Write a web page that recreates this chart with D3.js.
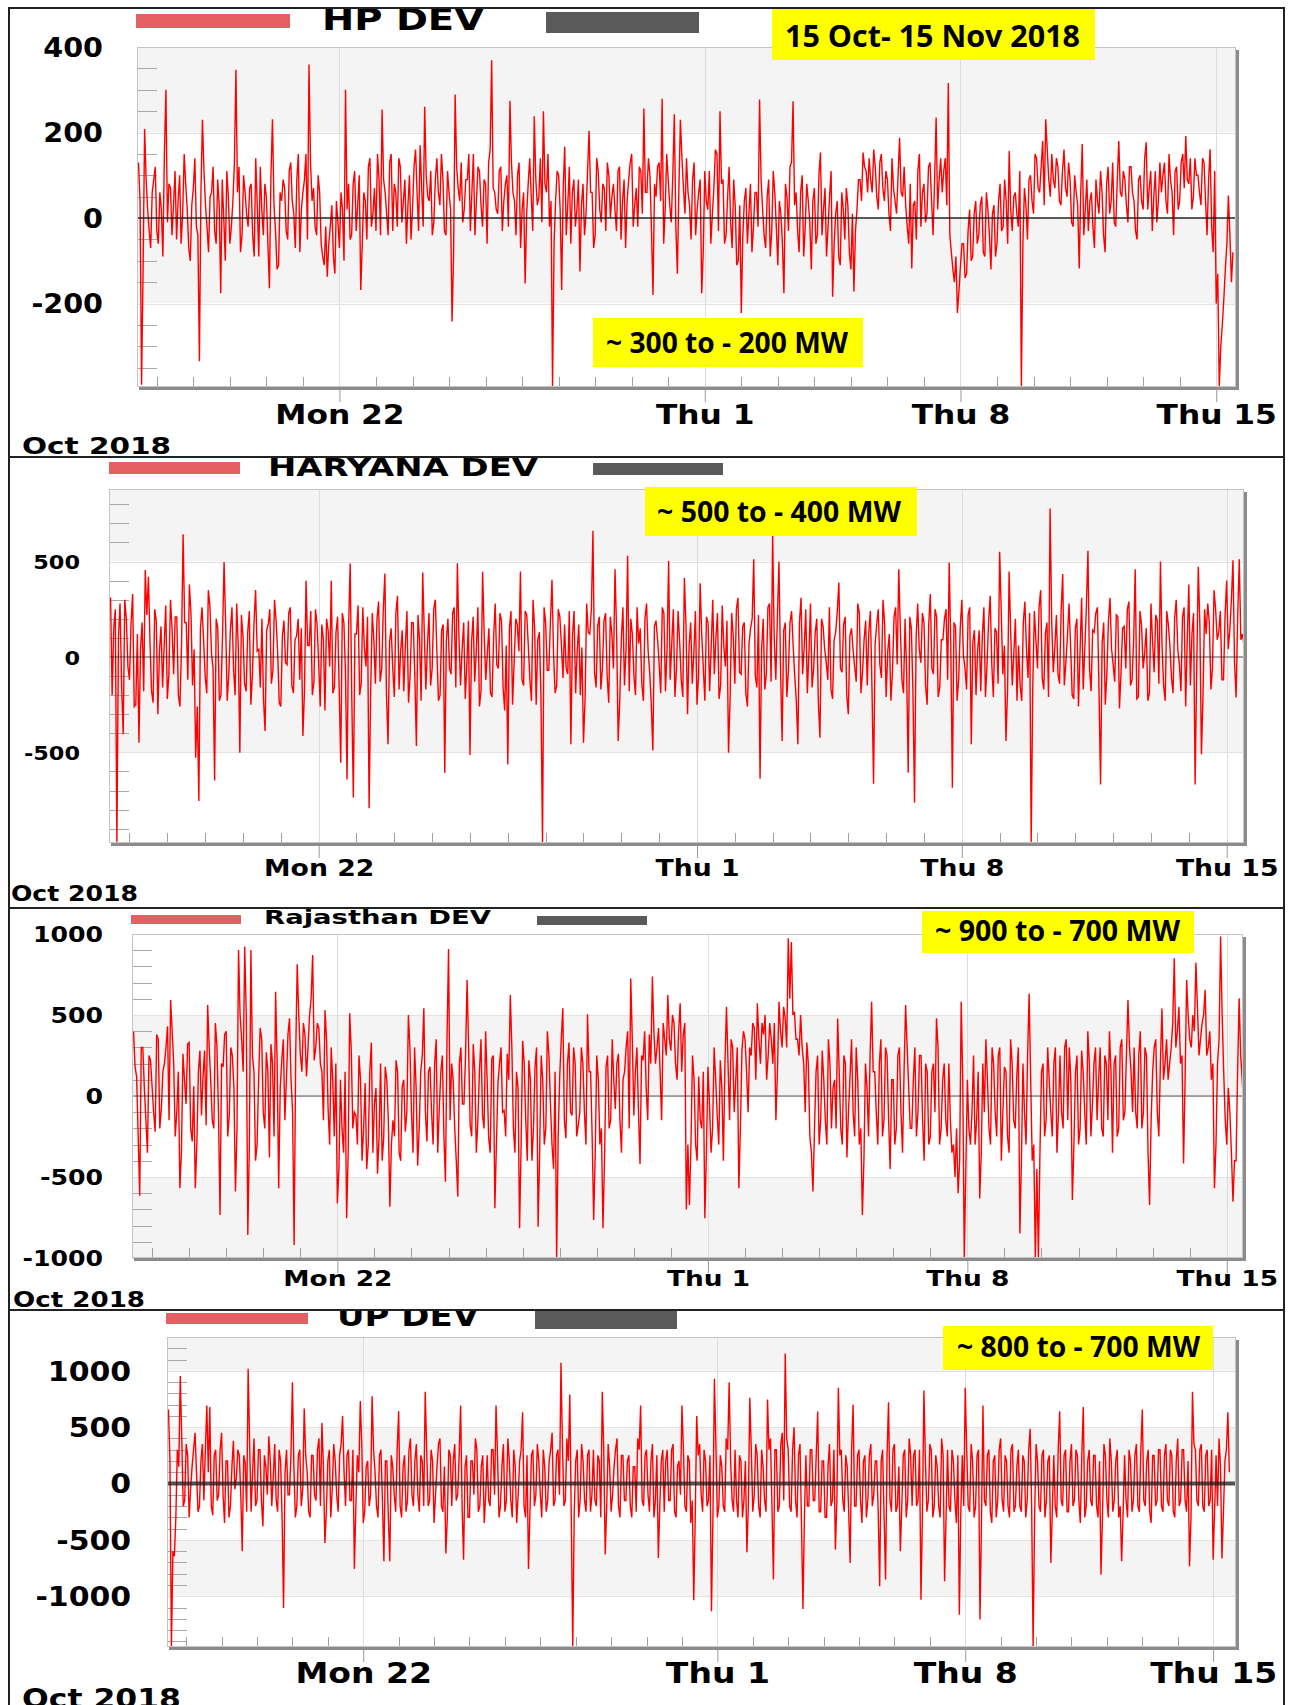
<!DOCTYPE html>
<html>
<head>
<meta charset="utf-8">
<script src="https://cdn.jsdelivr.net/npm/d3@7"></script>
<style>
  body { margin: 0; background: #fff; }
  svg { display: block; }
</style>
</head>
<body>
<div id="chart"></div>
<script>
// deviation readings (MW), one row per day starting Oct 16 12:00.
// "...Dev" arrays hold the even-hour readings, "...DevOdd" the odd-hour readings in between.
const hpDev = [
  130, -390, 208, 20, -70, 90, -30, 60, -90, 300, 80, -40,
  110, 40, -60, 150, 20, -100, 70, -20, -335, 230, 30, -80,
  60, -30, 90, -176, 0, 110, -60, 40, 347, 120, -40, 60,
  -20, 80, -90, 30, 120, -40, 50, -164, 231, -30, -110, 40,
  70, -50, 130, 10, 90, -80, 60, 150, 359, 40, -20, 100,
  -60, -110, -137, -20, -90, 40, -70, 20, 300, 80, -40, 110,
  30, -168, 60, -50, 140, 10, -30, 90, 254, 60, -40, 150,
  80, -20, 120, 40, -60, 100, 20, 160, -30, 70, 260, 50,
  110, -10, 140, 30, 90, -40, 60, -242, 289, 70, 130, 20,
  90, -30, 150, 40, 110, -20, 80, 130, 369, 60, 10, 120,
  40, 100, 274, 60, -40, 130, 20, -153, 80, 50, 238, 30,
  140, 250, 60, -20, -395, 40, 100, -168, 167, 30, -60, 90,
  20, -125, 80, 10, 204, 60, -40, 110, -10, 70, 130, 0,
  80, -30, 120, 40, -70, 90, 150, 30, -20, 110, 256, 60,
  100, -180, 50, 130, 279, 20, 90, -10, 243, -130, 230, 70,
  140, 30, 90, -40, 60, -176, 110, 20, -60, 70, 150, 250,
  90, -40, 120, -70, 30, -100, -222, 40, -60, 80, -20, 60,
  277, 20, -70, 90, -30, 60, -110, 10, -176, 50, 120, 273,
  60, -80, 100, -20, 40, -120, 70, -40, 153, 20, -90, 50,
  -184, 10, -90, 60, -50, 30, -120, -172, 20, 90, 153, 110,
  140, 60, 120, 20, 150, 40, 90, -30, 70, 10, 188, 50,
  30, -60, -118, 40, 110, -20, 80, 10, 130, -40, 235, 90,
  60, 140, 316, -80, -150, -222, -110, -60, -130, 20, -90, 40,
  -40, 50, -90, 20, -120, 30, -60, 80, -20, 40, 157, -30,
  60, -20, -395, 70, -50, 100, 10, 140, 60, 180, 231, 90,
  150, 70, 120, 30, 160, 50, 90, -20, 60, -118, 173, 20,
  -30, 60, -70, 40, 110, -40, 80, 10, 130, -20, 180, 50,
  90, -10, 120, 40, -50, 100, 20, 177, 70, -30, 110, 40,
  60, 130, 10, 90, -40, 120, 40, 150, 192, 80, 20, 140,
  100, 30, 130, -40, 161, -80, -200, -395, -250, -120, 53, -150
];
const hpDevOdd = [
  40, -120, 90, -30, 60, 120, -60, 20, 150, -10, 70, 30,
  -50, 100, 10, 80, -70, 30, 140, -40, 60, 110, -20, 50,
  120, -60, 30, 90, -100, 50, -20, 130, 60, -80, 100, 10,
  70, -40, 140, -90, 20, 80, -60, 100, 30, -120, 60, 90,
  -30, 110, 40, -70, 150, 20, 90, -50, 130, 70, -40, 60,
  -90, -20, -60, 30, -130, -10, 60, -100, 20, -50, 80, -30,
  100, -60, 40, 120, -20, 70, 150, -40, 90, 10, 130, -30,
  60, 140, -10, 90, 30, -50, 120, 60, 170, -20, 100, 40,
  -40, 90, 60, 150, -30, 110, 20, -80, 120, 40, -10, 90,
  150, 60, -40, 120, 30, 90, -60, 160, 70, 20, 110, -30,
  80, -20, 130, 40, 100, -70, 60, 10, 140, -30, 90, 50,
  -10, 80, 150, 40, -60, 110, 20, 70, -40, 120, 60, -20,
  90, 30, -40, 110, 60, -70, 140, 20, 80, -30, 100, 50,
  20, 110, -50, 90, 40, 130, -20, 70, 120, 10, 60, 140,
  -30, 80, 120, 40, -60, 150, 30, 100, -20, 70, 140, 10,
  60, -50, 130, 20, 90, -80, 40, 110, 10, 160, -30, 80,
  -60, 50, -10, 90, -110, 30, -40, 70, 10, -80, 60, -20,
  90, -40, 50, -90, 110, -20, 40, -60, 80, -30, 130, 30,
  -30, 60, -90, 80, -10, 40, -60, 100, -40, 70, -20, 110,
  -60, 40, -110, 20, 70, -80, 10, -30, 90, 40, 120, 60,
  90, 160, 50, 130, 70, 110, 10, 140, 40, 100, 60, 120,
  -20, 80, 30, -50, 150, 60, -10, 120, 40, 90, 20, 140,
  110, 30, -40, -120, -90, -170, -60, -140, -30, -100, 10, -60,
  30, -80, 60, -40, 10, -90, 40, -30, 90, -60, 20, 50,
  10, 110, -60, 30, 90, 40, 150, 70, 120, 30, 160, 50,
  90, 140, 40, 110, 70, 130, -10, 100, 30, 60, -40, 90,
  40, -20, 90, 10, 60, -80, 120, 40, -10, 90, 60, 110,
  30, 120, 60, -30, 90, 40, 140, 20, 110, 50, -10, 130,
  100, 40, 150, 60, 110, 20, 130, 70, 90, 140, 50, 100,
  60, 140, 40, 90, -20, 110, -130, -300, -190, -60, -40, -80
];

const haryanaDev = [
  311, 150, -975, 280, -405, 200, -120, 330, -250, -450, 180, 455,
  420, -180, 250, -300, 160, 60, -220, 300, -90, 210, -260, 643,
  180, 380, -150, -528, -755, 260, -100, 350, 20, -647, 150, -200,
  498, -230, 140, -60, 280, -502, 110, -180, 240, -90, 350, 40,
  200, -388, 170, -140, 300, 20, -260, 190, -40, 260, -190, 110,
  -120, -414, 399, 60, -200, 250, -30, 170, -280, 140, 399, -160,
  210, -554, 180, -642, 490, -737, 120, -200, 260, -50, -793, 230,
  -140, 290, -60, 437, -458, 150, -210, 320, 30, -180, 240, -100,
  180, -467, 90, 442, -170, 230, -60, 300, -230, 140, -607, 200,
  -90, 260, 491, -150, 180, -40, -514, 210, 30, -260, 446, -120,
  150, -210, 280, -60, 190, -280, -563, 240, -30, 170, 448, -150,
  220, -120, 300, -250, 130, -975, 180, -70, 404, -190, 250, 60,
  170, -90, -458, 240, 30, -200, -450, 280, 120, 661, -160, 210,
  -60, 230, -240, 120, 460, -440, 90, -150, 530, 200, -100, 260,
  150, -230, 280, -80, -490, 190, -40, 260, -180, 503, 70, -210,
  240, -120, 413, -300, 180, 20, -250, 386, -60, 210, -180, 300,
  100, -220, 270, -50, -502, 230, -140, 310, -90, 180, -260, 150,
  512, -160, -638, 200, -90, 280, 643, -120, 500, -440, 180, -70,
  240, -100, -458, 310, 50, -190, 280, -60, 200, -423, 160, -30,
  260, -220, 130, 390, -80, 210, -300, 150, -50, 280, -190, 90,
  -150, 240, -664, 170, -40, 300, -210, 120, -80, 260, 460, -120,
  200, -607, 150, -764, 280, -30, 180, -250, 330, -90, 210, -160,
  90, 250, 495, -685, 160, -120, 300, -60, 220, -458, 140, 30,
  -180, 260, -40, 320, -210, 130, 551, -90, -440, 448, -150, 200,
  60, -230, 290, -110, -975, 240, -60, 350, -170, 180, 778, -80,
  220, -140, 434, -30, 280, -200, 150, -260, 310, 40, 556, -180,
  130, 260, -668, 180, -90, 310, -40, 220, -270, 150, -60, 290,
  -120, 460, -210, 170, 20, -230, 280, -80, 190, 500, -150, 240,
  60, -190, 300, -40, 210, -260, 380, 120, -668, 472, -510, 250,
  280, -170, 350, 90, 240, -120, 400, 140, 507, -213, 512, 120
];
const haryanaDevOdd = [
  -200, 250, 100, -150, 300, -50, 180, -260, 120, 40, -180, 220,
  80, -240, 190, 30, -160, 270, -90, 150, 210, -200, 60, 180,
  -120, 230, 40, -260, 150, 90, -190, 270, -60, 200, -230, 110,
  170, -90, 260, -200, 60, 220, -140, 130, -250, 180, 30, -160,
  -220, 140, 250, -70, 190, -240, 110, -30, 230, -150, 90, 200,
  150, -180, 60, 240, -130, 170, -260, 90, 200, -50, -190, 130,
  -160, 230, -80, 160, -210, 120, 270, -140, 50, 210, -180, 90,
  200, -130, 250, -190, 80, -60, 230, -170, 140, 60, -240, 180,
  -100, 220, -230, 130, 60, -150, 250, 30, -200, 170, 90, -60,
  230, -160, 100, 40, -220, 190, 80, -130, 260, -180, 120, 20,
  -190, 110, -40, 230, -160, 60, 150, -250, 200, 30, -120, 240,
  60, -230, 150, 90, -200, 260, -70, 180, 20, -150, 210, -110,
  -60, 240, 110, -190, 170, 50, -220, 130, 250, -80, 160, -170,
  190, -100, 210, -60, 140, -230, 260, 40, -180, 120, -200, 70,
  -140, 200, 30, -250, 160, 90, -190, 230, 40, -120, 250, -60,
  80, -210, 170, 60, -140, 240, -100, 120, -230, 180, 50, -90,
  230, -150, 60, 190, -220, 110, 250, -80, 160, -190, 70, 200,
  -100, 220, 40, -170, 260, -130, 90, 210, -60, 140, -210, 180,
  60, -230, 180, -90, 250, 20, -160, 130, -240, 200, 40, -120,
  -170, 90, 240, -60, 170, -200, 110, 40, -130, 230, -80, 190,
  130, -160, 70, 250, -110, 180, 30, -230, 210, -40, 150, -190,
  -80, 210, -190, 100, 40, 230, -150, 170, -60, 250, -210, 90,
  200, -120, 60, 180, -230, 150, 10, -170, 260, 80, -200, 140,
  110, -210, 190, -40, 150, -140, 240, 60, -180, 130, 20, -230,
  -150, 180, 40, 230, -160, 90, 260, -110, 120, -210, 190, 50,
  -90, 240, -150, 110, 60, -220, 200, 30, -170, 260, -60, 140,
  230, -170, 70, -250, 190, 40, -130, 210, -80, 160, 250, -150,
  90, -220, 240, -60, 150, -190, 80, 220, -140, 60, -230, 170,
  -110, 200, 40, -180, 260, 90, -150, 230, -60, 170, -200, 120,
  180, -60, 250, 130, -120, 220, 40, 300, -30, 210, 90, 60
];

const rajasthanDev = [
  397, 120, -615, 300, -150, 250, 60, -220, 350, -80, 200, 430,
  593, 200, -100, -570, 260, -50, 330, -280, -570, 150, -120, 280,
  562, 90, -200, 310, -735, 180, 400, -120, 250, -590, 901, 350,
  922, -858, 901, 150, -300, 420, -100, 270, -380, 200, 644, -570,
  220, -150, 380, 100, -920, 813, 260, 450, 120, 500, 870, 300,
  420, 150, 530, -80, 300, -250, -663, 100, -350, -755, 510, -200,
  -120, 250, -400, 80, -300, 330, -50, -480, 200, -260, 100, -683,
  -150, 220, -350, 60, -220, 500, -100, 300, -430, 150, 541, -280,
  180, -300, 350, -80, 250, -529, 907, 200, -200, -621, 300, -50,
  716, -180, 320, -350, 150, -120, 400, -260, 230, -693, 80, 300,
  -90, 260, 623, -200, 150, -817, 340, -150, 220, -400, 180, -807,
  250, -300, 400, -50, -450, -1000, 120, 541, -260, 330, -120, 200,
  -180, 300, -100, 504, 150, -765, 250, -300, -817, 180, -200, 350,
  -80, 260, -350, 150, 400, 726, -120, 300, -420, 220, 50, 380,
  737, 200, 420, -150, 350, 623, 280, 450, 100, 572, 380, -700,
  -673, 250, -300, 120, -200, -755, 180, -350, 300, -120, 220, -400,
  551, -150, 300, 100, -570, 280, 350, -100, 250, 420, 572, 200,
  380, 100, 450, 200, -150, 582, 300, 480, 973, 950, 520, 350,
  500, 200, 330, -250, -590, 150, -300, 280, -150, 350, -200, 100,
  479, -200, 250, -380, 120, -100, 300, -300, -735, 200, -250, 582,
  150, -300, 350, -150, 250, -450, 100, -200, 300, -350, 562, 50,
  -200, 300, -100, 250, -400, 150, -250, 200, 480, -300, 100, -150,
  200, -350, -500, -600, 582, -1000, 100, -300, 250, -150, -632, 200,
  350, -200, 300, -100, 250, -400, 180, -250, 350, -150, 120, -848,
  200, -300, 633, -400, -1000, -1000, 150, -250, 300, -100, 200, -350,
  250, -200, 350, 300, -642, 150, -300, 280, -100, 400, -250, 200,
  -150, 300, -250, 200, 400, -350, 250, -200, 350, -100, 593, 150,
  300, -200, 400, -100, 250, -673, 150, 350, -250, 540, 200, 100,
  300, 850, 400, 200, -416, 716, 350, 500, 823, 250, 450, 656,
  300, 100, -570, 200, 984, 150, -300, -100, -652, -400, 603, 100
];
const rajasthanDevOdd = [
  180, -250, 300, 50, -350, 220, -100, 380, -200, 150, 300, -150,
  400, -250, 150, -350, 100, 320, -200, 60, -300, 280, 120, -180,
  300, -150, 450, -100, 200, 380, -250, 300, 50, -200, 500, 150,
  500, -300, 250, -400, 100, 350, -200, 150, 320, -250, 200, 50,
  350, 100, 480, -100, 250, 500, 150, 380, 300, 600, 220, 450,
  200, -150, 350, -300, 100, 200, -450, -200, 150, -350, 280, -100,
  -300, 100, -200, -450, 150, -350, 50, -250, -400, 180, -150, -300,
  -250, 150, -400, 100, -100, 300, -350, 50, -200, 250, -100, 150,
  -100, 200, -350, 150, -250, 350, -150, 100, -400, 200, -50, 250,
  300, -250, 150, -150, 350, -200, 100, -350, 250, -300, 200, -100,
  -250, 100, 300, -350, 50, -300, 200, -400, 100, -200, 300, -350,
  100, -200, 250, -300, 150, -250, 350, -150, 200, -100, 300, -250,
  -100, 200, -300, 150, -250, -350, 100, -200, -400, 250, -150, 100,
  200, -150, 100, 300, -200, 350, 150, -100, 250, 400, -150, 200,
  400, 300, 150, 450, 250, 350, 500, 200, 400, 150, 450, -300,
  -300, 100, -400, -150, 150, -350, -50, -200, 100, -300, 50, 200,
  200, 350, -100, 300, -200, 400, 150, 300, 450, 100, 350, 450,
  500, 250, 350, 450, 150, 400, 550, 300, 600, 500, 350, 250,
  300, -100, 200, -350, -200, 250, -150, 100, -300, 200, 50, -200,
  150, -300, 200, -100, 350, -250, 100, -200, -400, 50, 250, 150,
  -100, 200, -250, 300, -150, 100, -300, 250, -100, 150, 300, -200,
  100, -250, 250, -150, 200, -300, 150, -100, 300, -200, 200, -250,
  -150, -300, -200, -400, 100, -450, -200, -100, -300, 150, -350, -100,
  100, -300, 200, -250, 300, -100, 150, -350, 200, -200, 300, -400,
  -100, 250, 100, -300, -450, -350, 200, -150, 100, -250, 300, -100,
  -100, 300, -150, 100, -300, 250, -200, 150, -300, 200, -50, 300,
  100, -200, 250, -150, 150, 200, -250, 300, -150, 250, 300, -100,
  -100, 250, -200, 300, -350, -150, 300, -100, 200, 100, 350, 200,
  450, 300, 550, 250, 100, 500, 300, 400, 550, 350, 500, 250,
  400, 200, -300, 350, 500, -150, 50, -350, -400, 150, 250, -100
];

const upDev = [
  657, -1450, -645, 300, 953, -200, 350, -300, 150, 450, -250, 200,
  -150, 692, 680, -280, 300, -100, 450, -350, 200, -200, 380, 50,
  250, -600, 180, 1018, -250, 400, -150, 300, -380, 150, 420, -200,
  350, -250, 200, -1104, 300, -100, 899, -300, 250, -200, 666, 100,
  -300, 250, -150, 400, 538, -527, 200, -300, 350, -100, 250, 600,
  -200, 300, -150, -757, 250, 731, -350, 150, -200, 775, 100, -300,
  300, -689, 200, -689, 150, -250, 642, -300, 250, -150, 400, -200,
  350, -250, 200, 814, -200, 300, -350, 150, 400, -250, -621, 300,
  -200, 350, -100, 692, -675, 250, -300, 200, 400, -250, 150, -350,
  250, -200, 300, 692, -300, 150, -250, 400, -150, 300, -350, 200,
  633, -300, -757, 250, -200, 350, -100, 300, -250, 200, 450, -150,
  300, 1071, -200, 400, 790, -1450, 200, -300, 350, -150, 250, -250,
  300, -200, 200, 814, -630, 350, -250, 150, 400, -300, 250, -150,
  250, -300, 150, 400, 692, -200, 300, -250, 350, -150, -660, 200,
  -250, 300, -150, 350, -300, 200, 692, -200, 250, -350, -1036, 598,
  350, -250, 200, -150, -1133, 929, -300, 250, -200, 400, 899, -150,
  300, -300, 200, -150, -610, 760, -250, 350, -200, 300, -150, 746,
  400, -852, 300, -200, 450, 1154, 300, -250, 500, -300, 350, -1112,
  250, -200, 300, -150, 640, -250, 200, -300, 350, -150, -586, 849,
  300, -250, 150, -704, 700, -200, 300, -350, 250, -150, 350, -100,
  200, -911, 300, -852, 722, -250, 350, -200, -600, 250, -300, 400,
  -200, 300, -150, -1030, 825, -250, 350, -300, 250, -200, 400, -867,
  300, -250, 200, -350, -1163, 250, 849, -200, 350, -300, 250, -1207,
  692, -200, 300, -350, 250, -150, 400, -250, 200, -300, 350, -200,
  300, -250, 200, -150, 485, -1450, 350, -200, 250, -300, 200, -705,
  250, -300, 642, -200, 300, -250, 350, -150, 250, -350, 678, -200,
  300, -200, 250, -300, -808, 350, -150, 400, -250, 200, -300, -690,
  250, -300, 200, -150, 350, -250, 657, -200, 300, -350, 250, -150,
  300, -250, 350, -200, 250, -300, 400, -150, 300, -250, -734, 814,
  300, -200, 350, -250, 300, -150, -675, 250, 400, -665, 200, 633
];
const upDevOdd = [
  200, -600, -300, 150, 400, -150, 250, -50, 300, 100, -200, 350,
  300, 100, -200, 250, -150, 300, -100, 200, -300, 150, -50, 300,
  -100, 250, -250, 350, 100, -200, 300, -150, 250, -100, 200, 50,
  -150, 300, -300, 100, -100, 250, 150, -200, 300, -50, 250, -250,
  250, -100, 300, -200, 150, -250, 300, -50, 200, -250, 350, 100,
  250, -150, 300, -200, 100, 350, -250, 200, -100, 300, -200, 250,
  -150, 200, -300, 250, -100, 300, -200, 150, -250, 300, -100, 200,
  -100, 250, -200, 300, -150, 200, -100, 350, -200, 150, -300, 250,
  200, -150, 250, -200, 150, -300, 200, -100, 300, -200, 250, -100,
  -150, 300, -100, 250, -200, 350, -150, 200, -300, 150, -100, 300,
  -200, 250, -250, 300, -100, 200, -300, 150, -150, 300, -200, 250,
  -100, 350, -150, 200, -300, -250, 300, -150, 200, -250, 300, -100,
  -150, 250, -300, 300, -200, 150, -100, 300, -200, 250, -150, 200,
  -200, 150, -250, 300, -150, 250, -100, 200, -300, 250, -200, 300,
  200, -150, 300, -250, 150, -100, 300, -250, 200, -150, -300, 250,
  -100, 300, -200, 250, -300, 350, -200, 150, -250, 300, 200, -250,
  -150, 250, -300, 200, -200, 300, -100, 250, -300, 150, -250, 300,
  -200, 300, -250, 350, -150, 400, -200, 300, -150, 250, -350, -300,
  -200, 300, -150, 250, -250, 200, -300, 150, -200, 300, -150, 250,
  -150, 250, -250, 300, -200, 250, -150, 200, -300, 250, -200, 200,
  -250, 200, -300, 250, -150, 300, -250, 150, -200, 300, -150, 250,
  250, -200, 300, -250, 200, -150, 300, -200, 150, -300, 250, -300,
  -200, 300, -150, 250, -250, -200, 300, -250, 200, -200, 300, -350,
  -150, 250, -250, 200, -300, 300, -150, 250, -200, 300, -250, 150,
  -200, 250, -300, 300, -200, -300, 200, -250, 300, -150, 250, -250,
  -200, 300, -150, 250, -250, 200, -200, 300, -150, 250, -300, 200,
  -150, 250, -200, 200, -300, 250, -300, 200, -150, 300, -200, -250,
  -150, 300, -250, 250, -200, 300, -150, 200, -250, 250, -200, 300,
  -200, 250, -150, 300, -250, 200, -200, 300, -150, 200, -300, 350,
  -150, 300, -200, 250, -200, 300, -250, -200, 150, -250, 300, 100
];

const seriesNames = ["HP DEV", "HARYANA DEV", "Rajasthan DEV", "UP DEV"];
const rangeNotes = ["~ 300 to - 200 MW", "~ 500 to - 400 MW", "~ 900 to - 700 MW", "~ 800 to - 700 MW"];
const periodNote = "15 Oct- 15 Nov 2018";
const monthLabel = "Oct 2018";

const majorDates = ["2018-10-22", "2018-11-01", "2018-11-08", "2018-11-15"];
const majorLabels = ["Mon 22", "Thu 1", "Thu 8", "Thu 15"];

const hpTicks = [-200, 0, 200, 400];
const haryanaTicks = [-500, 0, 500];
const rajasthanTicks = [-1000, -500, 0, 500, 1000];
const upTicks = [-1000, -500, 0, 500, 1000];

const seriesEven = [hpDev, haryanaDev, rajasthanDev, upDev];
const seriesOdd = [hpDevOdd, haryanaDevOdd, rajasthanDevOdd, upDevOdd];
const seriesTicks = [hpTicks, haryanaTicks, rajasthanTicks, upTicks];

// layout of the four stacked panels (pixel positions)
const panels = [
  { top: 8, bottom: 457, l: 137, r: 1236, t: 47, b: 387, yDomain: [-395, 400], endHour: 13,
    minorStep: 50, firstGrey: true, zeroW: 2,
    yLabelX: 103, yFont: 26, ySx: 1.1, xFont: 27, xSx: 1.16, xLabelY: 424,
    oct: { x: 22, y: 454, size: 23, w: 149 },
    red: [136, 14, 154, 14], dark: [546, 12, 153, 21],
    title: { x: 322, y: 30, size: 30, w: 162 },
    note: { x: 593, y: 318, w: 270, h: 49, tx: 606, ty: 353, size: 28, tw: 242 } },
  { top: 457, bottom: 908, l: 109, r: 1244, t: 489, b: 843, yDomain: [-975, 880], endHour: 11,
    minorStep: 100, firstGrey: true, zeroW: 1,
    yLabelX: 80, yFont: 20, ySx: 1.12, xFont: 23, xSx: 1.16, xLabelY: 876,
    oct: { x: 11, y: 901, size: 22, w: 127 },
    red: [109, 462, 131, 12], dark: [593, 463, 130, 12],
    title: { x: 268, y: 476, size: 25, w: 270 },
    note: { x: 645, y: 487, w: 272, h: 49, tx: 657, ty: 522, size: 28, tw: 244 } },
  { top: 908, bottom: 1310, l: 132, r: 1243, t: 934, b: 1258, yDomain: [-1000, 1000], endHour: 10.5,
    minorStep: 100, firstGrey: false, zeroW: 1,
    yLabelX: 103, yFont: 21, ySx: 1.2, xFont: 22, xSx: 1.2, xLabelY: 1286,
    oct: { x: 13, y: 1307, size: 21, w: 132 },
    red: [131, 915, 110, 9], dark: [537, 916, 110, 9],
    title: { x: 264, y: 924, size: 20, w: 227 },
    note: { x: 922, y: 911, w: 272, h: 42, tx: 935, ty: 941, size: 28, tw: 245 } },
  { top: 1310, bottom: 1705, l: 167, r: 1236, t: 1337, b: 1647, yDomain: [-1450, 1300], endHour: 15.5,
    minorStep: 100, firstGrey: true, zeroW: 4,
    yLabelX: 131, yFont: 26, ySx: 1.15, xFont: 28, xSx: 1.18, xLabelY: 1683,
    oct: { x: 22, y: 1708, size: 27, w: 159 },
    red: [166, 1313, 142, 11], dark: [535, 1310, 142, 19],
    title: { x: 337, y: 1326, size: 28, w: 142 },
    note: { x: 943, y: 1326, w: 270, h: 44, tx: 957, ty: 1357, size: 28, tw: 243 } }
];

const W = 1289, H = 1705;
const startMs = Date.UTC(2018, 9, 16, 12);
const hourMs = 3600 * 1000;
const parseDay = d3.utcParse("%Y-%m-%d");
const majorTimes = majorDates.map(parseDay);

const svg = d3.select("#chart").append("svg")
  .attr("width", W).attr("height", H)
  .style("font-family", "'DejaVu Sans', Verdana, sans-serif");

panels.forEach((p, k) => {
  const ticks = seriesTicks[k];
  const odd = seriesOdd[k];
  const data = [];
  seriesEven[k].forEach((v, i) => {
    data.push({ t: new Date(startMs + 2 * i * hourMs), v });
    data.push({ t: new Date(startMs + (2 * i + 1) * hourMs), v: odd[i] });
  });

  svg.append("clipPath").attr("id", "panel" + k)
    .append("rect").attr("x", 0).attr("y", p.top).attr("width", W).attr("height", p.bottom - p.top);
  svg.append("clipPath").attr("id", "plot" + k)
    .append("rect").attr("x", p.l).attr("y", p.t).attr("width", p.r - p.l).attr("height", p.b - p.t);

  const g = svg.append("g").attr("clip-path", `url(#panel${k})`);

  const x = d3.scaleUtc()
    .domain([new Date(Date.UTC(2018, 9, 16, 11)), new Date(Date.UTC(2018, 10, 15) + p.endHour * hourMs)])
    .range([p.l, p.r]);
  const y = d3.scaleLinear().domain(p.yDomain).range([p.b, p.t]);

  // alternating bands between the major ticks
  const edges = [p.yDomain[1], ...ticks.slice().reverse().filter(t => t < p.yDomain[1] && t > p.yDomain[0]), p.yDomain[0]];
  g.selectAll(".band")
    .data(d3.pairs(edges))
    .join("rect")
    .attr("x", p.l).attr("width", p.r - p.l)
    .attr("y", d => y(d[0]))
    .attr("height", d => y(d[1]) - y(d[0]))
    .attr("fill", (d, i) => ((i % 2 === 0) === p.firstGrey) ? "#f4f4f4" : "#ffffff");

  // grid
  g.selectAll(".hgrid").data(ticks).join("line")
    .attr("x1", p.l).attr("x2", p.r)
    .attr("y1", d => Math.round(y(d)) + 0.5).attr("y2", d => Math.round(y(d)) + 0.5)
    .attr("stroke", "#e2e2e2");
  g.selectAll(".vgrid").data(majorTimes).join("line")
    .attr("x1", d => Math.round(x(d)) + 0.5).attr("x2", d => Math.round(x(d)) + 0.5)
    .attr("y1", p.t).attr("y2", p.b)
    .attr("stroke", "#dcdcdc");

  // minor ticks on the value axis
  const minor = d3.range(Math.ceil(p.yDomain[0] / p.minorStep) * p.minorStep, p.yDomain[1] + 1, p.minorStep)
    .filter(v => !ticks.includes(v));
  g.selectAll(".ymin").data(minor).join("line")
    .attr("x1", p.l).attr("x2", p.l + 20)
    .attr("y1", d => Math.round(y(d)) + 0.5).attr("y2", d => Math.round(y(d)) + 0.5)
    .attr("stroke", "#a8a8a8");

  // day ticks along the bottom
  const days = d3.utcDay.range(x.domain()[0], x.domain()[1])
    .filter(d => !majorTimes.some(m => +m === +d));
  g.selectAll(".xmin").data(days).join("line")
    .attr("x1", d => Math.round(x(d)) + 0.5).attr("x2", d => Math.round(x(d)) + 0.5)
    .attr("y1", p.b).attr("y2", p.b - 10)
    .attr("stroke", "#a0a0a0");

  // the series
  g.append("path")
    .datum(data)
    .attr("clip-path", `url(#plot${k})`)
    .attr("fill", "none")
    .attr("stroke", "#ff0000")
    .attr("stroke-width", 1.4)
    .attr("d", d3.line().x(d => x(d.t)).y(d => y(d.v)));

  // zero line drawn over the data
  g.append("line")
    .attr("x1", p.l).attr("x2", p.r)
    .attr("y1", y(0)).attr("y2", y(0))
    .attr("stroke", "#1a1a1a")
    .attr("stroke-opacity", p.zeroW > 2 ? 0.75 : 0.7)
    .attr("stroke-width", p.zeroW);

  // plot frame with the darker lower/right edge
  g.append("rect")
    .attr("x", p.l + 0.5).attr("y", p.t + 0.5)
    .attr("width", p.r - p.l - 1).attr("height", p.b - p.t - 1)
    .attr("fill", "none").attr("stroke", "#c4c4c4");
  g.append("line")
    .attr("x1", p.l + 2).attr("x2", p.r + 3)
    .attr("y1", p.b + 1.5).attr("y2", p.b + 1.5)
    .attr("stroke", "#8c8c8c").attr("stroke-width", 3);
  g.append("line")
    .attr("x1", p.r + 1.5).attr("x2", p.r + 1.5)
    .attr("y1", p.t + 3).attr("y2", p.b + 3)
    .attr("stroke", "#8c8c8c").attr("stroke-width", 3);

  // value axis labels (plain hyphen for negatives, as in the original)
  const yAxis = g.append("g")
    .attr("transform", `translate(${p.l},0)`)
    .call(d3.axisLeft(y).tickValues(ticks).tickSize(0).tickFormat(d => String(d)));
  yAxis.select(".domain").remove();
  yAxis.selectAll("text")
    .attr("x", (p.yLabelX - p.l) / p.ySx)
    .attr("dy", "0.36em")
    .attr("transform", `scale(${p.ySx},1)`)
    .attr("fill", "#000")
    .style("font-size", p.yFont + "px")
    .style("font-weight", "bold")
    .style("font-family", "'DejaVu Sans', Verdana, sans-serif");

  // time axis: major ticks and labels
  const xAxis = g.append("g")
    .attr("transform", `translate(0,${p.b + 3})`)
    .call(d3.axisBottom(x).tickValues(majorTimes).tickSize(12).tickFormat((d, i) => majorLabels[i]));
  xAxis.select(".domain").remove();
  xAxis.selectAll("line").attr("stroke", "#9a9a9a");
  xAxis.selectAll("text")
    .attr("y", 0).attr("dy", 0)
    .attr("transform", `translate(0,${p.xLabelY - p.b - 3}) scale(${p.xSx},1)`)
    .attr("fill", "#000")
    .style("font-size", p.xFont + "px")
    .style("font-weight", "bold")
    .style("font-family", "'DejaVu Sans', Verdana, sans-serif");

  g.append("text")
    .attr("x", p.oct.x).attr("y", p.oct.y)
    .attr("textLength", p.oct.w).attr("lengthAdjust", "spacingAndGlyphs")
    .style("font-size", p.oct.size + "px").style("font-weight", "bold")
    .text(monthLabel);

  // legend swatches and series name
  g.append("rect")
    .attr("x", p.red[0]).attr("y", p.red[1]).attr("width", p.red[2]).attr("height", p.red[3])
    .attr("fill", "#e45f62");
  g.append("rect")
    .attr("x", p.dark[0]).attr("y", p.dark[1]).attr("width", p.dark[2]).attr("height", p.dark[3])
    .attr("fill", "#5a5a5a");
  g.append("text")
    .attr("x", p.title.x).attr("y", p.title.y)
    .attr("textLength", p.title.w).attr("lengthAdjust", "spacingAndGlyphs")
    .style("font-size", p.title.size + "px").style("font-weight", "bold")
    .text(seriesNames[k]);

  // yellow call-outs
  const notes = [{ box: p.note, label: rangeNotes[k] }];
  if (k === 0) {
    notes.push({ box: { x: 772, y: 9, w: 323, h: 51, tx: 785, ty: 47, size: 31, tw: 295 }, label: periodNote });
  }
  notes.forEach(n => {
    g.append("rect")
      .attr("x", n.box.x).attr("y", n.box.y).attr("width", n.box.w).attr("height", n.box.h)
      .attr("fill", "#ffff00");
    g.append("text")
      .attr("x", n.box.tx).attr("y", n.box.ty)
      .attr("textLength", n.box.tw).attr("lengthAdjust", "spacingAndGlyphs")
      .style("font-family", "'Open Sans', sans-serif")
      .style("font-size", n.box.size + "px").style("font-weight", "bold")
      .text(n.label);
  });
});

// outer frame and separators
svg.append("rect")
  .attr("x", 9).attr("y", 8).attr("width", 1275).attr("height", H)
  .attr("fill", "none").attr("stroke", "#222").attr("stroke-width", 2);
svg.selectAll(".sep")
  .data(panels.slice(1))
  .join("line")
  .attr("x1", 9).attr("x2", 1284)
  .attr("y1", d => d.top).attr("y2", d => d.top)
  .attr("stroke", "#222").attr("stroke-width", 2);
</script>
</body>
</html>
